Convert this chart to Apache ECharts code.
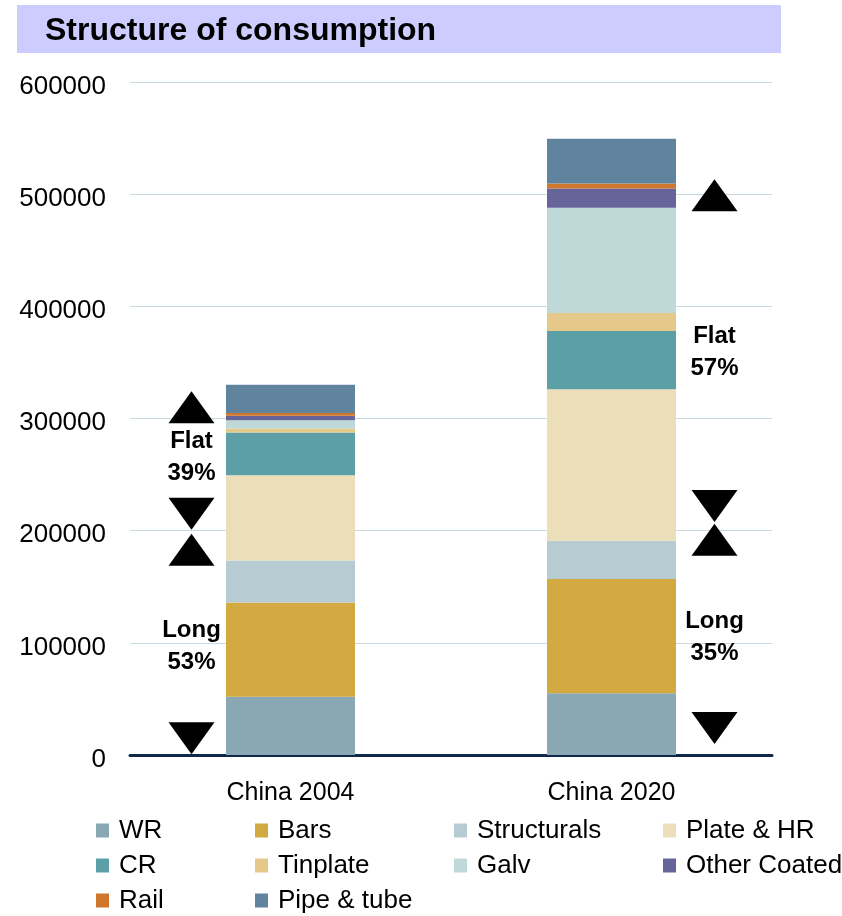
<!DOCTYPE html>
<html>
<head>
<meta charset="utf-8">
<script src="https://cdn.jsdelivr.net/npm/echarts@6/dist/echarts.min.js"></script>
<style>
html,body{margin:0;padding:0;background:#fff;}
#chart{width:842px;height:916px;}
</style>
</head>
<body>
<div id="chart"></div>
<script>
// ---- data ----
const categories = ['China 2004', 'China 2020'];
const seriesNames = ['WR', 'Bars', 'Structurals', 'Plate & HR', 'CR', 'Tinplate', 'Galv', 'Other Coated', 'Rail', 'Pipe & tube'];
const WR = [52000, 55000];
const Bars = [84000, 102000];
const Structurals = [37500, 34000];
const PlateHR = [76000, 135000];
const CR = [38000, 52000];
const Tinplate = [3500, 16000];
const Galv = [7500, 94000];
const OtherCoated = [4000, 17000];
const Rail = [2500, 4500];
const PipeTube = [25000, 40000];
const yTicks = [0, 100000, 200000, 300000, 400000, 500000, 600000];

// annotation arrows: [categoryIndex, value, direction]
const arrowMarks = [
  [0, 310000, 'up'], [0, 215000, 'down'], [0, 183000, 'up'], [0, 15000, 'down'],
  [1, 499000, 'up'], [1, 222000, 'down'], [1, 192000, 'up'], [1, 24000, 'down']
];
// annotation texts: [categoryIndex, value, text]
const noteTexts = [
  [0, 265600, 'Flat\n39%'], [0, 96700, 'Long\n53%'],
  [1, 359000, 'Flat\n57%'], [1, 105000, 'Long\n35%']
];

const seriesValues = [WR, Bars, Structurals, PlateHR, CR, Tinplate, Galv, OtherCoated, Rail, PipeTube];
const colors = ['#8aa8b4', '#d3a942', '#b6cbd2', '#ecdeb9', '#5c9fa7', '#e4c98a', '#bed9d8', '#666498', '#d0772e', '#60849e'];

const FONT = '"Liberation Sans", Arial, sans-serif';
const sideOffset = [-99, 103];

const chart = echarts.init(document.getElementById('chart'), null, {renderer: 'canvas'});

const barSeries = seriesNames.map((name, i) => ({
  name: name,
  type: 'bar',
  stack: 'total',
  barWidth: 129,
  data: seriesValues[i],
  itemStyle: {color: colors[i]},
  emphasis: {disabled: true},
  z: 2
}));

const arrowSeries = {
  type: 'scatter',
  name: 'arrows',
  symbol: 'triangle',
  symbolSize: [46, 32],
  z: 5,
  silent: true,
  itemStyle: {color: '#000', opacity: 1},
  data: arrowMarks.map(a => ({
    value: [a[0], a[1]],
    symbolRotate: a[2] === 'down' ? 180 : 0,
    symbolOffset: [sideOffset[a[0]], 0]
  }))
};

const textSeries = {
  type: 'scatter',
  name: 'notes',
  symbol: 'circle',
  symbolSize: 1,
  z: 6,
  silent: true,
  itemStyle: {color: 'rgba(255,255,255,0)', opacity: 1},
  data: noteTexts.map(t => ({
    value: [t[0], t[1]],
    symbolOffset: [sideOffset[t[0]], 0],
    label: {
      show: true,
      position: 'inside',
      formatter: t[2],
      fontSize: 24,
      fontWeight: 'bold',
      lineHeight: 32,
      color: '#000',
      opacity: 1,
      fontFamily: FONT,
      align: 'center'
    }
  }))
};

function legendCol(names, left) {
  return {
    orient: 'vertical',
    left: left,
    top: 813,
    height: 120,
    padding: 0,
    itemGap: 0,
    itemWidth: 13,
    itemHeight: 14,
    icon: 'rect',
    data: names,
    selectedMode: false,
    textStyle: {
      fontSize: 26,
      fontFamily: FONT,
      color: '#000',
      lineHeight: 25,
      padding: [10, 0, 0, 5]
    }
  };
}

const option = {
  animation: false,
  backgroundColor: '#fff',
  textStyle: {fontFamily: FONT},
  title: {
    text: 'Structure of consumption',
    left: 17,
    top: 5,
    padding: [10, 0, 6, 28],
    backgroundColor: '#ccccff',
    textStyle: {
      fontSize: 32,
      fontWeight: 'bold',
      color: '#000',
      fontFamily: FONT,
      width: 736,
      height: 32,
      lineHeight: 32
    }
  },
  legend: [
    legendCol(['WR', 'CR', 'Rail'], 96),
    legendCol(['Bars', 'Tinplate', 'Pipe & tube'], 255),
    legendCol(['Structurals', 'Galv'], 454),
    legendCol(['Plate & HR', 'Other Coated'], 663)
  ],
  grid: {left: 130, right: 70, top: 82, bottom: 161, containLabel: false},
  xAxis: {
    type: 'category',
    data: categories,
    axisLine: {show: true, lineStyle: {color: '#10284a', width: 3}},
    axisTick: {show: false},
    axisLabel: {fontSize: 25, color: '#000', margin: 26, fontFamily: FONT},
    splitLine: {show: false}
  },
  yAxis: {
    type: 'value',
    min: yTicks[0],
    max: yTicks[yTicks.length - 1],
    interval: yTicks[1] - yTicks[0],
    axisLine: {show: false},
    axisTick: {show: false},
    axisLabel: {
      fontSize: 26, color: '#000', margin: 24, fontFamily: FONT,
      verticalAlign: 'top',
      lineHeight: 9,
      formatter: v => String(v)
    },
    splitLine: {show: true, lineStyle: {color: '#c9d9e2', width: 1}}
  },
  series: barSeries.concat([arrowSeries, textSeries])
};

chart.setOption(option);
</script>
</body>
</html>
